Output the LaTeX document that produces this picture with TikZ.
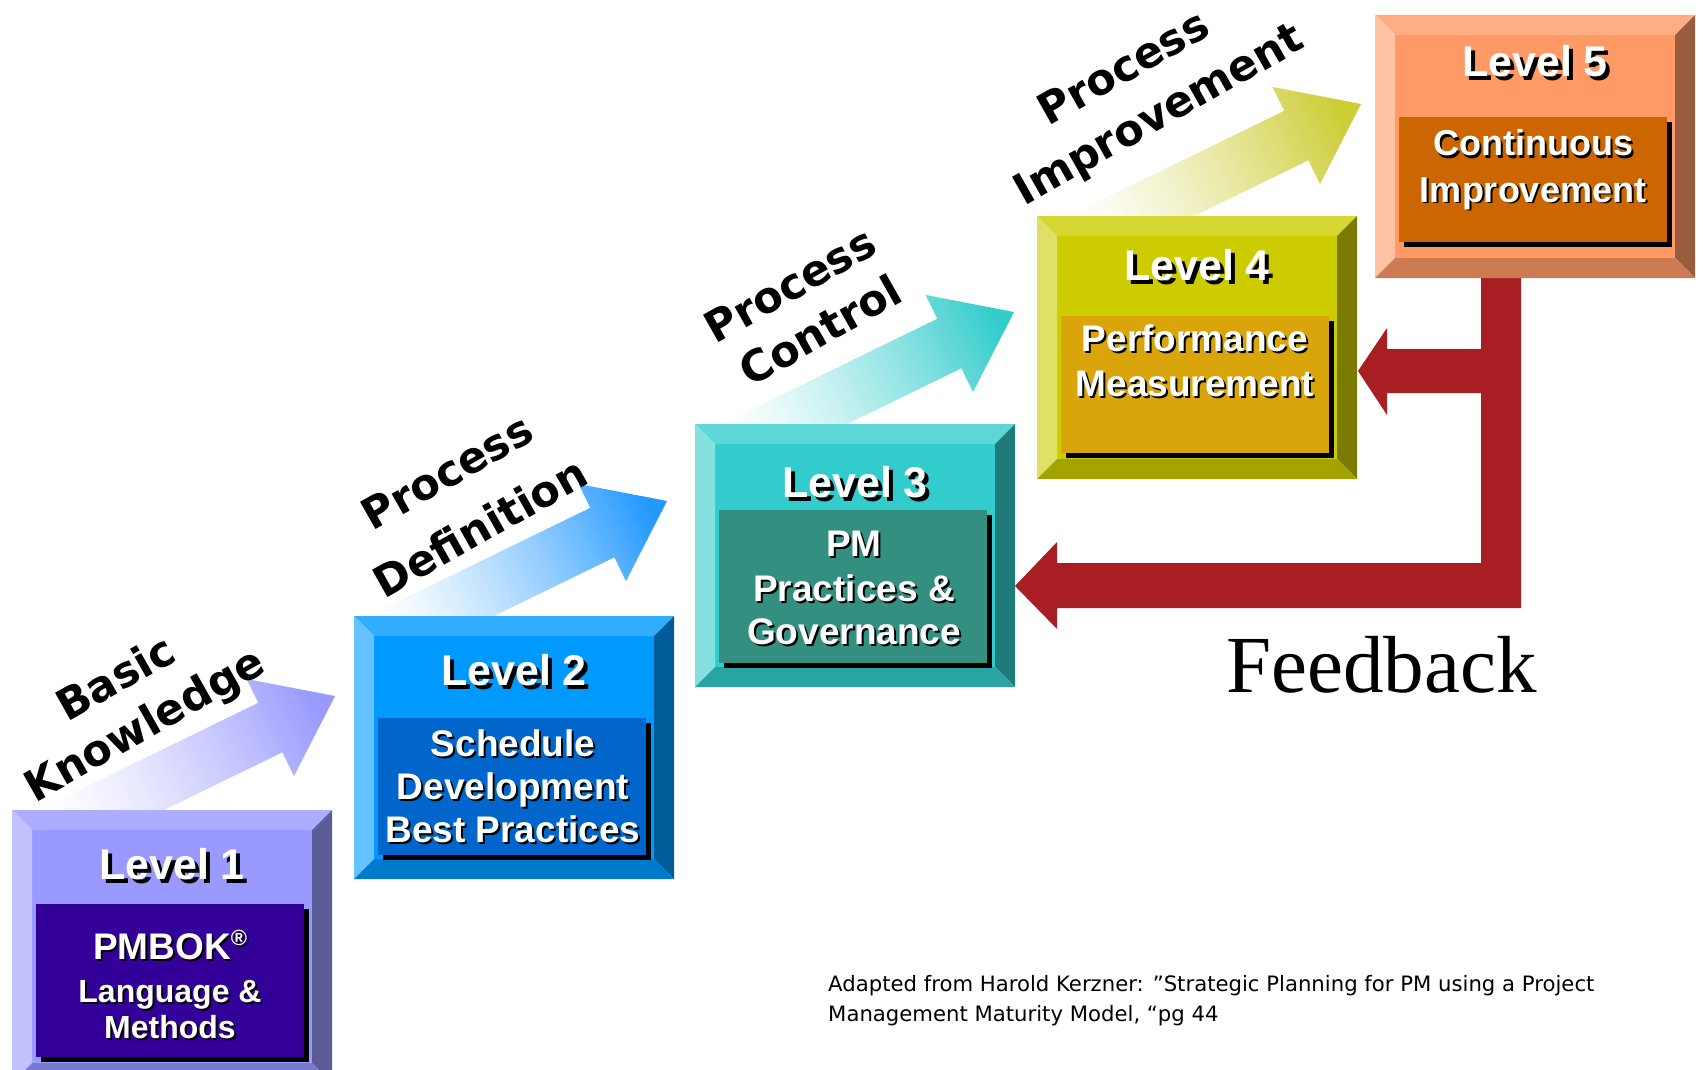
\documentclass[tikz,border=0pt]{standalone}
\usepackage{fontspec}
\setmainfont{Liberation Sans}
\newfontfamily\vfont{DejaVu Sans}
\newfontfamily\tnr{Liberation Serif}
\definecolor{faceA}{HTML}{9999FF}
\definecolor{darkA}{HTML}{330099}
\definecolor{faceB}{HTML}{0099FF}
\definecolor{darkB}{HTML}{0066CC}
\definecolor{faceC}{HTML}{33CCCC}
\definecolor{darkC}{HTML}{339080}
\definecolor{faceD}{HTML}{CCCC00}
\definecolor{darkD}{HTML}{DAA50A}
\definecolor{faceE}{HTML}{FF9966}
\definecolor{darkE}{HTML}{CC6600}
\definecolor{fbred}{HTML}{A81E22}
\definecolor{arrB}{HTML}{2299FF}
\definecolor{arrD}{HTML}{CCCC33}
\tikzset{
  shd/.style={text=black, inner sep=0pt, anchor=base},
  wht/.style={text=white, inner sep=0pt, anchor=base},
  steplabel/.style={font={\vfont\bfseries\fontsize{43}{43}\selectfont}, rotate=29.5, inner sep=0pt, text=black},
  cite/.style={font={\vfont\fontsize{21.2}{21.2}\selectfont}, anchor=base west, inner sep=0pt},
}
% level box: x, y, height, face colour, dark colour, dark top, dark bottom
\newcommand\lvbox[7]{%
\begin{scope}[shift={(#1,#2)}]
 \fill[#4] (20,20) rectangle (300,#3-20);
 \fill[#4!80!white] (0,0) -- (320,0) -- (300,20) -- (20,20) -- cycle;
 \fill[#4!60!white] (0,0) -- (20,20) -- (20,#3-20) -- (0,#3) -- cycle;
 \fill[#4!60!black] (320,0) -- (320,#3) -- (300,#3-20) -- (300,20) -- cycle;
 \fill[#4!80!black] (0,#3) -- (20,#3-20) -- (300,#3-20) -- (320,#3) -- cycle;
 \fill[black] (29,#6+5) rectangle (297,#7+5);
 \fill[#5] (24,#6) rectangle (292,#7);
\end{scope}}
% gradient arrow: tip x, tip y, colour
\newcommand\garrow[3]{%
\begin{scope}[shift={(#1,#2)},rotate=26]
 \clip (0,0) -- (-72,-54) -- (-72,-27.5) -- (-340,-27.5) -- (-340,27.5) -- (-72,27.5) -- (-72,54) -- cycle;
 \foreach \k in {0,...,68} {
   \pgfmathsetmacro\ua{-340+5*\k}
   \pgfmathsetmacro\fr{max(0,min(1,(\ua+322.5)/300))}
   \pgfmathtruncatemacro\pp{100*\fr^1.4}
   \fill[#3!\pp!white] (\ua,-60) rectangle (\ua+5.8,60);
 }
\end{scope}}
% shadowed text: name, x, y, size, offset, text
\newcommand\sht[6]{%
 \node[shd, font={\bfseries\fontsize{#4}{#4}\selectfont}] (#1s) at (#2+#5,#3+#5) {#6};
 \node[wht, font={\bfseries\fontsize{#4}{#4}\selectfont}] (#1) at (#2,#3) {#6};}
\begin{document}
\begin{tikzpicture}[x=1pt,y=-1pt]
\useasboundingbox (0,0) rectangle (1703,1070);
\clip (0,0) rectangle (1703,1070);
\fill[white] (0,0) rectangle (1703,1070);
% gradient arrows
\garrow{335}{696}{faceA}
\garrow{667}{501}{arrB}
\garrow{1014}{312}{faceC}
\garrow{1361}{104}{arrD}
% feedback arrows
\fill[fbred] (1481,270) -- (1521,270) -- (1521,608) -- (1057,608) -- (1057,629) -- (1015,586)
  -- (1057,542) -- (1057,563) -- (1481,563) -- (1481,393) -- (1387,393) -- (1387,415)
  -- (1358,371) -- (1387,328) -- (1387,349) -- (1481,349) -- cycle;
% boxes
\lvbox{12}{810}{273}{faceA}{darkA}{94}{247}
\lvbox{354}{616}{263}{faceB}{darkB}{102}{239}
\lvbox{695}{424}{263}{faceC}{darkC}{86}{239}
\lvbox{1037}{216}{263}{faceD}{darkD}{100}{237}
\lvbox{1375}{15}{263}{faceE}{darkE}{102}{227}
% level titles
\sht{lv1}{172}{879}{43}{4}{Level 1}
\sht{lv2}{514}{685}{43}{4}{Level 2}
\sht{lv3}{855}{497}{43}{4}{Level 3}
\sht{lv4}{1197}{280}{43}{4}{Level 4}
\sht{lv5}{1535}{77}{43}{4}{Level 5}
% box texts
\sht{ta}{170}{959}{37}{2}{PMBOK\raisebox{0.36em}{\fontsize{22}{22}\selectfont ®}}
\sht{tb}{170}{1002}{32}{2}{Language \&}
\sht{tc}{170}{1038}{32}{2}{Methods}
\sht{td}{513}{756}{37}{2}{Schedule}
\sht{te}{513}{799}{37}{2}{Development}
\sht{tf}{513}{842}{37}{2}{Best Practices}
\sht{tg}{854}{556}{37}{2}{PM}
\sht{th}{854}{601}{37}{2}{Practices \&}
\sht{ti}{854}{644}{37}{2}{Governance}
\sht{tj}{1195}{351}{37}{2}{Performance}
\sht{tk}{1195}{396}{37}{2}{Measurement}
\sht{tl}{1533}{156}{36}{2}{Continuous}
\sht{tm}{1533}{202}{36}{2}{Improvement}
% step labels
\node[steplabel] (s1a) at (115,677) {Basic};
\node[steplabel] (s1b) at (146,727) {Knowledge};
\node[steplabel] (s2a) at (447,472) {Process};
\node[steplabel] (s2b) at (480,527) {Definition};
\node[steplabel] (s3a) at (790,285) {Process};
\node[steplabel] (s3b) at (820,330) {Control};
\node[steplabel] (s4a) at (1123,67) {Process};
\node[steplabel] (s4b) at (1160,117) {Improvement};
% feedback label
\node[font={\tnr\fontsize{81}{81}\selectfont}, anchor=base west, inner sep=0pt] (fb) at (1226,692) {Feedback};
% citation
\node[cite] (c1) at (828,991) {Adapted from Harold Kerzner: ”Strategic Planning for PM using a Project};
\node[cite] (c2) at (828,1021) {Management Maturity Model, “pg 44};
\end{tikzpicture}
\end{document}
